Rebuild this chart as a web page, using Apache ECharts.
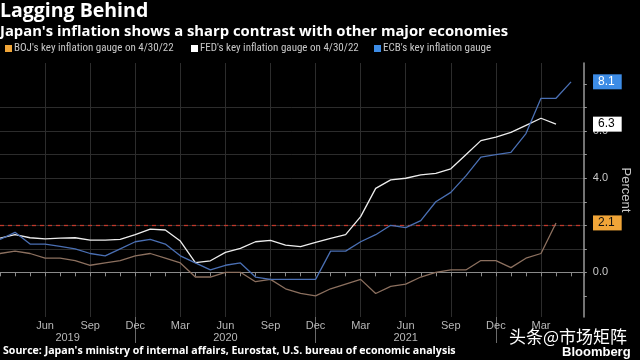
<!DOCTYPE html>
<html><head><meta charset="utf-8">
<script src="https://cdn.jsdelivr.net/npm/echarts@6/dist/echarts.min.js"></script>
<style>html,body{margin:0;padding:0;background:#000}#c{width:640px;height:360px}</style>
</head><body><div id="c"></div>
<script>
const months = [
  '2019-03','2019-04','2019-05','2019-06','2019-07','2019-08','2019-09','2019-10','2019-11','2019-12',
  '2020-01','2020-02','2020-03','2020-04','2020-05','2020-06','2020-07','2020-08','2020-09','2020-10','2020-11','2020-12',
  '2021-01','2021-02','2021-03','2021-04','2021-05','2021-06','2021-07','2021-08','2021-09','2021-10','2021-11','2021-12',
  '2022-01','2022-02','2022-03','2022-04','2022-05'
];
const bojValues = [
  0.8, 0.9, 0.8, 0.6, 0.6, 0.5, 0.3, 0.4, 0.5, 0.7,
  0.8, 0.6, 0.4, -0.2, -0.2, 0.0, 0.0, -0.4, -0.3, -0.7, -0.9, -1.0,
  -0.7, -0.5, -0.3, -0.9, -0.6, -0.5, -0.2, 0.0, 0.1, 0.1, 0.5, 0.5,
  0.2, 0.6, 0.8, 2.1
];
const fedValues = [
  1.45, 1.6, 1.47, 1.42, 1.45, 1.47, 1.37, 1.37, 1.4, 1.6,
  1.84, 1.8, 1.33, 0.41, 0.49, 0.85, 1.02, 1.3, 1.36, 1.16, 1.09, 1.27,
  1.44, 1.6, 2.37, 3.57, 3.93, 4.0, 4.14, 4.21, 4.4, 5.0, 5.6, 5.75,
  5.95, 6.25, 6.55, 6.3
];
const ecbValues = [
  1.4, 1.7, 1.2, 1.2, 1.1, 1.0, 0.8, 0.7, 1.0, 1.3,
  1.4, 1.2, 0.7, 0.4, 0.1, 0.3, 0.4, -0.2, -0.3, -0.3, -0.3, -0.3,
  0.9, 0.9, 1.3, 1.6, 2.0, 1.9, 2.2, 3.0, 3.4, 4.1, 4.9, 5.0,
  5.1, 5.9, 7.4, 7.4, 8.1
];
const seriesNames = ["BOJ's key inflation gauge on 4/30/22", "FED's key inflation gauge on 4/30/22", "ECB's key inflation gauge"];
const targetLine = 2.0;
const monthNames = ['Jan','Feb','Mar','Apr','May','Jun','Jul','Aug','Sep','Oct','Nov','Dec'];
const yTickValues = [-1,0,1,2,3,4,5,6,7,8];
const yLabelValues = [0,2,4,6,8];
const yearSeparators = ['2019-12','2020-12','2021-12'];

const baseYear = 2019;
function idx(s){ const [y,m] = s.split('-').map(Number); return (y-baseYear)*12 + (m-1); }
function pairs(vals){ return vals.map((v,i)=>[idx(months[i]), v]); }

const xMin = idx(months[0]);
const xMax = idx(months[months.length-1]) + 0.85;
const sepIdx = yearSeparators.map(idx);
const yearCenters = [(xMin+sepIdx[0])/2, (sepIdx[0]+sepIdx[1])/2, (sepIdx[1]+sepIdx[2])/2];

const narrow = "'Liberation Sans Narrow', 'Roboto Condensed', 'DejaVu Sans Condensed', 'Liberation Sans', sans-serif";
const openSans = "'Open Sans', 'Liberation Sans', sans-serif";
const axisTxt = '#b8b8b8';
const gridCol = '#2c2c2c';

const chart = echarts.init(document.getElementById('c'), null, {renderer:'canvas'});
const legendBase = {top: 43, padding: 0, itemWidth: 7, itemHeight: 7, icon: 'rect', itemGap: 4,
  textStyle: {color:'#c8c8c8', fontSize: 11, fontFamily: narrow, padding:[0,0,0,-3]}, selectedMode: false};
chart.setOption({
  backgroundColor: '#000',
  animation: false,
  title: [
    {text: 'Lagging Behind', left: 0, top: 1, padding: 0, textStyle: {color:'#fff', fontSize: 19.5, fontWeight:'bold', fontFamily: openSans}},
    {text: "Japan's inflation shows a sharp contrast with other major economies", left: 0, top: 24, padding: 0, textStyle: {color:'#fff', fontSize: 14.8, fontWeight:'bold', fontFamily: openSans}},
    {text: "Source: Japan's ministry of internal affairs, Eurostat, U.S. bureau of economic analysis", left: 3, top: 345, padding: 0, textStyle: {color:'#fff', fontSize: 10.6, fontWeight:'bold', fontFamily: openSans}},
    {text: '头条@市场矩阵', left: 509, top: 328, padding: 0, textStyle: {color:'#fff', fontSize: 17, fontWeight:'normal', fontFamily: "'Noto Sans CJK SC', sans-serif", textShadowColor:'#000', textShadowBlur: 3}},
    {text: 'Bloomberg', left: 562, top: 346, padding: 0, textStyle: {color:'#fff', fontSize: 13, fontWeight:'bold', fontFamily: "'Liberation Sans', sans-serif"}}
  ],
  legend: [
    Object.assign({}, legendBase, {left: 5, data: [seriesNames[0]]}),
    Object.assign({}, legendBase, {left: 191, data: [seriesNames[1]]}),
    Object.assign({}, legendBase, {left: 374, data: [seriesNames[2]]})
  ],
  grid: {left: 0, right: 46, top: 63, bottom: 43},
  xAxis: [
    {type:'value', min: xMin, max: xMax, interval: 3,
     axisLine: {show:true, lineStyle:{color:'#8a8a8a'}},
     axisTick: {show:true, length: 4, lineStyle:{color:'#8a8a8a'}},
     minorTick: {show:true, splitNumber: 3, length: 4, lineStyle:{color:'#8a8a8a'}},
     splitLine: {show:true, showMinLine:false, showMaxLine:false, lineStyle:{color:gridCol}},
     axisLabel: {color: axisTxt, fontSize: 11, margin: 3, showMinLabel:false, showMaxLabel:false, fontFamily:"'Liberation Sans', sans-serif",
       formatter: v => monthNames[((Math.round(v)%12)+12)%12]}},
    {type:'value', min: xMin, max: xMax, position:'bottom',
     axisLine: {show:false},
     axisTick: {show:true, length: 26, customValues: sepIdx, lineStyle:{color:'#6a6a6a'}},
     splitLine: {show:false},
     axisLabel: {color: axisTxt, fontSize: 11, margin: 15, customValues: yearCenters, fontFamily:"'Liberation Sans', sans-serif",
       formatter: v => String(baseYear + Math.floor(v/12))}}
  ],
  yAxis: {type:'value', position:'right', min: -1.9, max: 8.9, minInterval: 2, maxInterval: 2,
    name: 'Percent', nameLocation:'middle', nameRotate: -90, nameGap: 31,
    nameTextStyle: {color:'#c8c8c8', fontSize: 13, fontFamily:"'Liberation Sans', sans-serif"},
    axisLine: {show:true, lineStyle:{color:'#9a9a9a', width: 1.5}},
    axisTick: {show:true, length: 3, customValues: yTickValues, lineStyle:{color:'#9a9a9a'}},
    axisLabel: {color:'#c8c8c8', fontSize: 11, margin: 9, customValues: yLabelValues, fontFamily:"'Liberation Sans', sans-serif",
      formatter: v => v.toFixed(1)},
    splitLine: {show:true, showMinLine:false, showMaxLine:false, lineStyle:{color:gridCol}}
  },
  series: [
    {name: seriesNames[0], type:'line', data: pairs(bojValues), showSymbol:false, z: 3,
     lineStyle:{color:'#8c705f', width:1.3}, itemStyle:{color:'#f0a538'},
     endLabel:{show:true, formatter: p => p.value[1].toFixed(1), offset:[29,0], backgroundColor:'#f0a538', color:'#111', fontSize: 12, padding:[2,7,1,5], fontFamily:"'Liberation Sans', sans-serif"},
     markLine:{silent:true, symbol:'none', label:{show:false}, z: 2, lineStyle:{color:'#c0392b', type:[4,4], width:1.3, opacity: 1}, emphasis:{disabled:true}, data:[{yAxis: targetLine}]}},
    {name: seriesNames[1], type:'line', data: pairs(fedValues), showSymbol:false, z: 4,
     lineStyle:{color:'#ededed', width:1.3}, itemStyle:{color:'#ffffff'},
     endLabel:{show:true, formatter: p => p.value[1].toFixed(1), offset:[29,0], backgroundColor:'#ffffff', color:'#000', fontSize: 12, padding:[2,7,1,5], fontFamily:"'Liberation Sans', sans-serif"}},
    {name: seriesNames[2], type:'line', data: pairs(ecbValues), showSymbol:false, z: 5,
     lineStyle:{color:'#4a6fb3', width:1.3}, itemStyle:{color:'#3d8ce6'},
     endLabel:{show:true, formatter: p => p.value[1].toFixed(1), offset:[14,0], backgroundColor:'#3d8ce6', color:'#fff', fontSize: 12, padding:[2,7,1,5], fontFamily:"'Liberation Sans', sans-serif"}}
  ]
});
</script></body></html>
